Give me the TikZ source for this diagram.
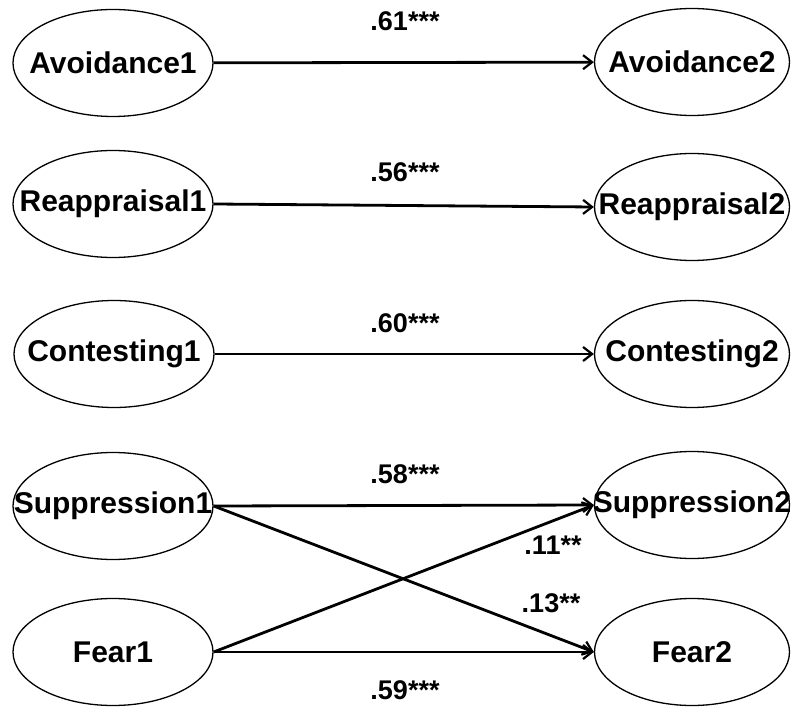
\documentclass[tikz,border=0pt]{standalone}
\usepackage{fontspec}
\setmainfont{Liberation Sans}
\usetikzlibrary{shapes.geometric,arrows.meta}
\begin{document}
\begin{tikzpicture}[x=1pt,y=1pt,
  lat/.style={ellipse,draw,line width=1.3pt,inner sep=0pt,minimum height=107pt,
    label={[font=\fontsize{30}{34}\selectfont\bfseries,inner sep=0pt]center:#1}},
  latL/.style={lat=#1,minimum width=200pt},
  latR/.style={lat=#1,minimum width=195pt},
  path/.style={line width=2.8pt,-{Straight Barb[length=9pt,width=14pt,line width=2.2pt]}},
  coef/.style={font=\fontsize{27}{30}\selectfont\bfseries,inner sep=0pt}]
\useasboundingbox (0,0) rectangle (794,707);
\node[latL=Avoidance1] (A1) at (113,644) {};
\node[latR=Avoidance2] (A2) at (692,645) {};
\node[latL=Reappraisal1] (R1) at (113,503) {};
\node[latR=Reappraisal2] (R2) at (692,500) {};
\node[latL=Contesting1] (C1) at (114,353) {};
\node[latR=Contesting2] (C2) at (692,353) {};
\node[latL=Suppression1] (S1) at (113,201) {};
\node[latR=Suppression2] (S2) at (692,202) {};
\node[latL=Fear1] (F1) at (113,55) {};
\node[latR=Fear2] (F2) at (692,55) {};
\draw[path] (A1) -- (A2);
\draw[path] (R1.east) -- (R2.west);
\draw[path] (C1) -- (C2);
\draw[path] (S1.east) -- (S2.west);
\draw[path] (F1.east) -- (F2.west);
\draw[path] (S1.east) -- (F2.west);
\draw[path] (F1.east) -- (S2.west);
\node[coef] (l1) at (405,686) {.61***};
\node[coef] (l2) at (405,535) {.56***};
\node[coef] (l3) at (405,384) {.60***};
\node[coef] (l4) at (405,233) {.58***};
\node[coef] (l5) at (553,162) {.11**};
\node[coef] (l6) at (551,104) {.13**};
\node[coef] (l7) at (405,17) {.59***};
\end{tikzpicture}
\end{document}
